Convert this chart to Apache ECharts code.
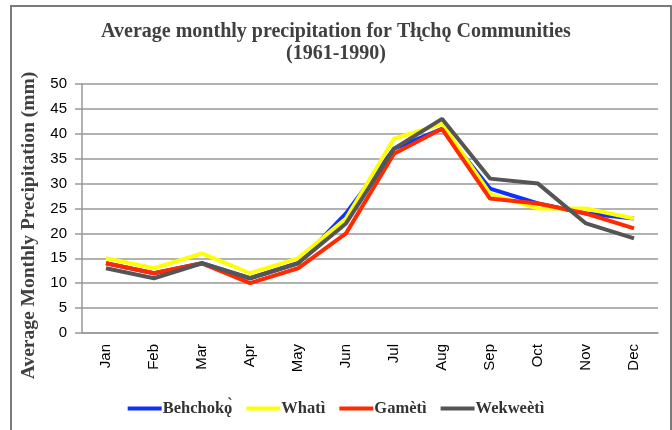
<!DOCTYPE html>
<html><head><meta charset="utf-8">
<script src="https://cdn.jsdelivr.net/npm/echarts@6/dist/echarts.min.js"></script>
<style>html,body{margin:0;padding:0;background:#fff}#c{width:672px;height:430px}</style>
</head><body><div id="c"></div>
<script>
const months = ['Jan','Feb','Mar','Apr','May','Jun','Jul','Aug','Sep','Oct','Nov','Dec'];
const behchoko = [14, 12, 14, 11, 14, 24, 37, 41, 29, 26, 24, 23];
const whati    = [15, 13, 16, 12, 15, 23, 39, 42, 28, 25, 25, 23];
const gameti   = [14, 12, 14, 10, 13, 20, 36, 41, 27, 26, 24, 21];
const wekweeti = [13, 11, 14, 11, 14, 22, 37, 43, 31, 30, 22, 19];
const seriesNames = ['Behchokǫ̀', 'Whatì', 'Gamètì', 'Wekweètì'];
const seriesData = [behchoko, whati, gameti, wekweeti];
const colors = ['#1030ff', '#ffff00', '#ff2a00', '#555555'];

const chart = echarts.init(document.getElementById('c'));
chart.setOption({
  animation: false,
  title: {
    text: 'Average monthly precipitation for Tłı̨chǫ Communities\n(1961-1990)',
    left: 'center', top: 16,
    textStyle: {fontFamily: 'Liberation Serif', fontWeight: 'bold', fontSize: 20, color: '#404040', lineHeight: 22}
  },
  graphic: [{type: 'rect', shape: {x: 11, y: 6, width: 660, height: 440}, style: {fill: 'none', stroke: '#7a7a7a', lineWidth: 2}, silent: true}],
  legend: {
    bottom: 8, left: 'center', itemWidth: 34, itemHeight: 4, itemGap: 14,
    icon: 'rect',
    textStyle: {fontFamily: 'Liberation Serif', fontWeight: 'bold', fontSize: 16.5, color: '#333', padding: [0,0,0,-4]},
    data: seriesNames
  },
  grid: {left: 82, right: 14, top: 84, bottom: 97, containLabel: false},
  xAxis: {
    type: 'category', data: months, boundaryGap: true,
    axisLine: {lineStyle: {color: '#999', width: 1.5}},
    axisTick: {alignWithLabel: true, length: 5, lineStyle: {color: '#999'}},
    axisLabel: {rotate: 90, margin: 11, fontFamily: 'Liberation Sans', fontSize: 15, color: '#000'}
  },
  yAxis: {
    type: 'value', min: 0, max: 50, interval: 5,
    name: 'Average Monthly Precipitation (mm)', nameLocation: 'middle', nameGap: 57,
    nameTextStyle: {fontFamily: 'Liberation Serif', fontWeight: 'bold', fontSize: 19.5, color: '#404040', padding: [0,34,-50,0]},
    axisLine: {show: true, lineStyle: {color: '#999', width: 1.5}},
    axisTick: {show: true, length: 7, lineStyle: {color: '#999', width: 1.5}},
    axisLabel: {margin: 15, fontFamily: 'Liberation Sans', fontSize: 15, color: '#000'},
    splitLine: {lineStyle: {color: '#999', width: 1.5}}
  },
  series: seriesData.map((d, i) => ({
    name: seriesNames[i], type: 'line', data: d, symbol: 'none',
    lineStyle: {width: 4, color: colors[i]}, itemStyle: {color: colors[i]}
  }))
});
</script></body></html>
